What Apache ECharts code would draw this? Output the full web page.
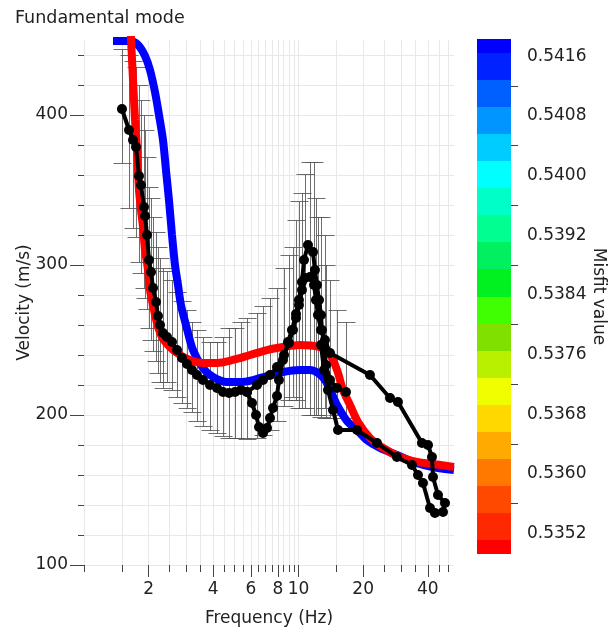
<!DOCTYPE html>
<html>
<head>
<meta charset="utf-8">
<title>Fundamental mode</title>
<script src="https://cdn.jsdelivr.net/npm/echarts@6/dist/echarts.min.js"></script>
<style>
  html, body { margin: 0; padding: 0; background: #ffffff; }
  #chart { width: 610px; height: 636px; }
</style>
</head>
<body>
<div id="chart"></div>
<script>
// ---- Picked dispersion curve, first branch (Hz, m/s) ----
const pickAFreq = [1.503, 1.621, 1.692, 1.747, 1.804, 1.843, 1.904, 1.925, 1.966, 2.009,
  2.052, 2.097, 2.166, 2.212, 2.261, 2.334, 2.436, 2.571, 2.713, 2.862,
  3.020, 3.186, 3.362, 3.585, 3.865, 4.167, 4.444, 4.741, 5.054, 5.391,
  5.748, 6.066, 6.332, 6.540, 6.826, 7.126, 7.358, 7.599, 7.932, 8.101,
  8.460, 8.925, 9.316, 9.725, 10.04, 10.37, 10.60, 11.06, 11.67, 11.92,
  12.18, 12.45, 12.72, 12.85, 13.13, 13.42, 14.01, 15.10, 16.63];
const pickAVel = [404, 390, 383.3, 378.7, 359.3, 353.3, 338.7, 332.7, 320, 303.3,
  295.3, 284.7, 275.3, 266, 260, 254.7, 252, 248.7, 243.3, 238,
  234, 230, 226.7, 223.3, 220, 218, 215.3, 214.7, 215.3, 216.7,
  215.3, 208, 200, 192, 188, 191.3, 198, 204.7, 212.7, 223.3,
  236.7, 248.7, 256.7, 267.3, 276.7, 288.7, 303.3, 313.3, 308.7, 296.7,
  286.7, 276.7, 266.7, 256.7, 246.7, 233.3, 223.3, 218, 215.3];

// ---- Picked dispersion curve, second branch (Hz, m/s) ----
const pickBFreq = [5.748, 6.400, 6.826, 7.358, 7.932, 8.551, 9.021, 9.417, 9.725, 10.04,
  10.37, 10.71, 11.30, 11.80, 12.05, 12.31, 12.72, 13.27, 14.01, 21.51,
  26.67, 29.05, 37.58, 40.09, 41.84, 42.30, 44.63, 48.11, 47.09, 43.21,
  40.96, 37.99, 36.01, 33.77, 28.74, 23.19, 18.72, 15.27, 14.47, 13.71,
  13.13, 12.72];
const pickBVel = [215.3, 220, 223.3, 226.7, 232, 240, 248, 256.7, 264.7, 273.3,
  283.3, 291.3, 292, 286.7, 276.7, 266.7, 256.7, 250, 241.3, 226.7,
  211.3, 208.7, 181.3, 180, 172, 158.7, 146.7, 141.3, 135.3, 134.7,
  138, 154.7, 160, 166.7, 172, 181.3, 190, 190, 203.3, 216.7,
  230, 246.7];

// ---- Uncertainty of the picked velocities (Hz, lower m/s, upper m/s) ----
const errFreq = [1.503, 1.621, 1.692, 1.747, 1.804, 1.843, 1.904, 1.925, 1.966, 2.009,
  2.052, 2.097, 2.166, 2.212, 2.261, 2.334, 2.436, 2.571, 2.713, 2.862,
  3.020, 3.186, 3.362, 3.585, 3.865, 4.167, 4.444, 4.741, 5.054, 5.391,
  5.748, 6.400, 6.826, 7.358, 7.932, 8.551, 9.021, 9.417, 9.725, 10.04,
  10.37, 10.71, 11.30, 11.80, 12.05, 12.31, 12.72, 13.27, 13.42, 14.01,
  15.10, 16.63];
const errLow = [368, 338, 325, 319, 302, 295, 285, 278, 271, 258,
  250, 243, 236, 228, 222, 218, 222, 217, 212, 208,
  205, 202, 196, 193, 190, 188, 186, 185, 185, 185,
  184, 185, 187, 190, 196, 206, 210, 212, 210, 205,
  205, 205, 200, 200, 200, 200, 199, 205, 198, 198,
  200, 198];
const errHigh = [444, 440, 436, 432, 420, 410, 400, 390, 372, 352,
  345, 332, 322, 312, 305, 298, 296, 290, 282, 276,
  270, 262, 257, 252, 249, 249, 252, 258, 258, 262,
  265, 268, 273, 278, 285, 298, 307, 312, 330, 343,
  348, 361, 369, 369, 345, 332, 332, 320, 300, 290,
  270, 262];

// ---- Computed dispersion curve, misfit 0.5418 (Hz, m/s) ----
const modelHighFreq = [1.365, 1.638, 1.785, 1.925, 2.030, 2.142, 2.236, 2.334, 2.410, 2.489,
  2.571, 2.655, 2.742, 2.831, 2.987, 3.220, 3.585, 3.992, 4.638, 5.333,
  6.132, 7.126, 8.460, 10.15, 11.30, 12.31, 13.27, 14.01, 15.10, 16.81,
  18.72, 20.83, 23.95, 28.74, 34.14, 42.30, 52.99];
const modelHighVel = [449.3, 449.3, 446.7, 439.3, 430, 415.3, 400, 383.3, 363.3, 343.3,
  320, 300, 286.7, 273.3, 260, 243.3, 231.3, 225.3, 222, 222,
  223.3, 226, 228.7, 230, 230, 228, 223.3, 216.7, 206.7, 196,
  190, 183.3, 178, 173.3, 168.7, 165.3, 163.3];

// ---- Computed dispersion curve, misfit 0.5350 (Hz, m/s) ----
const modelLowFreq = [1.638, 1.656, 1.692, 1.729, 1.766, 1.785, 1.804, 1.843, 1.884, 1.925,
  1.987, 2.030, 2.097, 2.189, 2.309, 2.516, 2.802, 3.118, 3.585, 4.167,
  4.947, 5.937, 7.126, 8.460, 10.15, 12.58, 13.71, 14.47, 15.27, 16.10,
  17.36, 18.92, 21.51, 24.74, 29.69, 35.62, 42.30, 52.99];
const modelLowVel = [470, 451.3, 423.3, 396.7, 376.7, 363.3, 350, 336.7, 325.3, 310,
  296.7, 283.3, 273.3, 261.3, 252, 245.3, 240, 236.7, 234.7, 234.7,
  236.7, 240, 243.3, 245.3, 246.7, 245.3, 242, 236.7, 228, 216.7,
  206.7, 195.3, 184.7, 178, 172, 168.7, 167.3, 165.3];

// ---- Axis ticks ----
const freqMajorTicks = [2, 4, 6, 8, 10, 20, 40];
const freqMinorTicks = [1, 1.5, 2.5, 3, 3.5, 4.5, 5, 5.5, 6.5, 7, 7.5, 8.5, 9, 9.5, 15, 25, 30, 35, 45, 50];
const velMajorTicks = [100, 200, 300, 400];
const velMinorTicks = [120, 140, 160, 180, 220, 240, 260, 280, 320, 340, 360, 380, 420, 440];

// ---- Misfit colour scale ----
const misfitLevels = [0.534924, 0.535287, 0.535651, 0.536014, 0.536378, 0.536741, 0.537105,
  0.537468, 0.537832, 0.538195, 0.538559, 0.538922, 0.539286, 0.539649, 0.540013,
  0.540376, 0.540740, 0.541103, 0.541466, 0.541830];
const misfitColors = ['#ff0000', '#ff2800', '#ff4800', '#ff7800', '#ffaa00', '#ffd800', '#f0ff00',
  '#b8f000', '#80e000', '#40ff00', '#00f020', '#00f060', '#00ff90', '#00ffc8', '#00ffff',
  '#00ccff', '#0095ff', '#0060ff', '#0022ff', '#0000ff'];
const misfitMajorTicks = [0.5352, 0.5360, 0.5368, 0.5376, 0.5384, 0.5392, 0.5400, 0.5408, 0.5416];
const misfitMinorTicks = [0.5356, 0.5364, 0.5372, 0.5380, 0.5388, 0.5396, 0.5404, 0.5412];

// ---- Layout ----
const FONT = 'DejaVu Sans';
const TEXT = '#222222';
const TICK = '#444444';
const GRID_LINE = '#e8e8e8';
const FREQ_MIN = 1, FREQ_MAX = 53;
const VEL_MIN = 100, VEL_MAX = 450;
const MISFIT_MIN = misfitLevels[0], MISFIT_MAX = misfitLevels[misfitLevels.length - 1];

const zip = (a, b) => a.map((v, i) => [v, b[i]]);
const log10 = (v) => Math.log10(v);

// colour bands: each level covers half-way to its neighbours
const bandData = misfitLevels.map((lv, i) => {
  const lo = i === 0 ? MISFIT_MIN : (misfitLevels[i - 1] + lv) / 2;
  const hi = i === misfitLevels.length - 1 ? MISFIT_MAX : (misfitLevels[i + 1] + lv) / 2;
  return [0, lo, hi, i];
});

const errData = errFreq.map((f, i) => [f, errLow[i], errHigh[i]]);

const chart = echarts.init(document.getElementById('chart'), null, { renderer: 'canvas' });

const option = {
  animation: false,
  backgroundColor: '#ffffff',
  title: {
    text: 'Fundamental mode',
    left: 10, top: 4,
    textStyle: { fontFamily: FONT, fontSize: 17.5, fontWeight: 'normal', color: TEXT }
  },
  grid: [
    { left: 84, top: 40, width: 370, height: 525, containLabel: false },
    { left: 477, top: 39, width: 34, height: 515, containLabel: false }
  ],
  xAxis: [
    // data axis (logarithmic frequency)
    { type: 'log', gridIndex: 0, min: FREQ_MIN, max: FREQ_MAX, logBase: 10,
      axisLine: { show: false }, axisTick: { show: false }, axisLabel: { show: false },
      splitLine: { show: false }, minorTick: { show: false }, minorSplitLine: { show: false } },
    // labelled ticks, drawn in log10 units
    { type: 'value', gridIndex: 0, position: 'bottom', min: 0, max: log10(FREQ_MAX),
      name: 'Frequency (Hz)', nameLocation: 'middle', nameGap: 45, nameMoveOverlap: false,
      nameTextStyle: { fontFamily: FONT, fontSize: 17, color: TEXT },
      axisLine: { show: false, onZero: false },
      axisTick: { show: true, length: 12, customValues: freqMajorTicks.map(log10),
        lineStyle: { color: TICK, width: 1 } },
      axisLabel: { show: true, customValues: freqMajorTicks.map(log10), margin: 16,
        fontFamily: FONT, fontSize: 17, color: TEXT,
        formatter: (v) => String(Math.round(Math.pow(10, v))) },
      splitLine: { show: true, lineStyle: { color: GRID_LINE, width: 1 } } },
    // minor ticks
    { type: 'value', gridIndex: 0, position: 'bottom', min: 0, max: log10(FREQ_MAX),
      axisLine: { show: false, onZero: false },
      axisTick: { show: true, length: 7, customValues: freqMinorTicks.map(log10),
        lineStyle: { color: TICK, width: 1 } },
      axisLabel: { show: false },
      splitLine: { show: true, lineStyle: { color: GRID_LINE, width: 1 } } },
    // colour bar
    { type: 'value', gridIndex: 1, min: 0, max: 1, show: false }
  ],
  yAxis: [
    { type: 'value', gridIndex: 0, position: 'left', min: VEL_MIN, max: VEL_MAX,
      name: 'Velocity (m/s)', nameLocation: 'middle', nameGap: 51, nameMoveOverlap: false,
      nameTextStyle: { fontFamily: FONT, fontSize: 17, color: TEXT },
      axisLine: { show: false, onZero: false },
      axisTick: { show: true, length: 14, customValues: velMajorTicks,
        lineStyle: { color: TICK, width: 1 } },
      axisLabel: { show: true, customValues: velMajorTicks, margin: 16,
        fontFamily: FONT, fontSize: 17, color: TEXT },
      splitLine: { show: true, lineStyle: { color: GRID_LINE, width: 1 } } },
    { type: 'value', gridIndex: 0, position: 'left', min: VEL_MIN, max: VEL_MAX,
      axisLine: { show: false, onZero: false },
      axisTick: { show: true, length: 6, customValues: velMinorTicks,
        lineStyle: { color: TICK, width: 1 } },
      axisLabel: { show: false },
      splitLine: { show: true, lineStyle: { color: GRID_LINE, width: 1 } } },
    { type: 'value', gridIndex: 1, position: 'right', min: MISFIT_MIN, max: MISFIT_MAX,
      name: 'Misfit value', nameLocation: 'middle', nameGap: 77, nameRotate: -90,
      nameTextStyle: { fontFamily: FONT, fontSize: 17, color: TEXT },
      axisLine: { show: false },
      axisTick: { show: true, length: 14, customValues: misfitMajorTicks,
        lineStyle: { color: TICK, width: 1 } },
      axisLabel: { show: true, customValues: misfitMajorTicks, margin: 16,
        fontFamily: FONT, fontSize: 17, color: TEXT,
        formatter: (v) => v.toFixed(4) },
      splitLine: { show: false } },
    { type: 'value', gridIndex: 1, position: 'right', min: MISFIT_MIN, max: MISFIT_MAX,
      axisLine: { show: false },
      axisTick: { show: true, length: 7, customValues: misfitMinorTicks,
        lineStyle: { color: TICK, width: 1 } },
      axisLabel: { show: false },
      splitLine: { show: false } }
  ],
  series: [
    // error bars
    {
      type: 'custom', name: 'uncertainty', xAxisIndex: 0, yAxisIndex: 0,
      clip: true, z: 2,
      data: errData,
      encode: { x: 0, y: [1, 2] },
      renderItem: function (params, api) {
        const f = api.value(0);
        const top = api.coord([f, api.value(2)]);
        const bot = api.coord([f, api.value(1)]);
        const x = Math.round(top[0]) + 0.5;
        const y1 = Math.round(top[1]) + 0.5;
        const y2 = Math.round(bot[1]) + 0.5;
        const hw = 9;
        const st = { stroke: '#555555', lineWidth: 1, opacity: 0.85 };
        return {
          type: 'group',
          children: [
            { type: 'line', shape: { x1: x, y1: y1, x2: x, y2: y2 }, style: st },
            { type: 'line', shape: { x1: x - hw, y1: y1, x2: x + hw, y2: y1 }, style: st },
            { type: 'line', shape: { x1: x - hw, y1: y2, x2: x + hw, y2: y2 }, style: st }
          ]
        };
      }
    },
    {
      type: 'line', name: 'misfit 0.5418', xAxisIndex: 0, yAxisIndex: 0, z: 3,
      data: zip(modelHighFreq, modelHighVel),
      showSymbol: false, smooth: 0.3, clip: true,
      lineStyle: { color: '#0000ff', width: 8 }
    },
    {
      type: 'line', name: 'misfit 0.5350', xAxisIndex: 0, yAxisIndex: 0, z: 4,
      data: zip(modelLowFreq, modelLowVel),
      showSymbol: false, smooth: 0.3, clip: true,
      lineStyle: { color: '#ff0000', width: 8 }
    },
    {
      type: 'line', name: 'picked A', xAxisIndex: 0, yAxisIndex: 0, z: 5,
      data: zip(pickAFreq, pickAVel),
      symbol: 'circle', symbolSize: 10, clip: true,
      itemStyle: { color: '#000000' },
      lineStyle: { color: '#000000', width: 4 }
    },
    {
      type: 'line', name: 'picked B', xAxisIndex: 0, yAxisIndex: 0, z: 5,
      data: zip(pickBFreq, pickBVel),
      symbol: 'circle', symbolSize: 10, clip: true,
      itemStyle: { color: '#000000' },
      lineStyle: { color: '#000000', width: 4 }
    },
    // colour bar bands
    {
      type: 'custom', name: 'misfit scale', xAxisIndex: 3, yAxisIndex: 2,
      data: bandData,
      encode: { x: 0, y: [1, 2] },
      renderItem: function (params, api) {
        const a = api.coord([0, api.value(1)]);
        const b = api.coord([1, api.value(2)]);
        const x0 = Math.round(a[0]), x1 = Math.round(b[0]);
        const yB = Math.round(a[1]), yT = Math.round(b[1]);
        return {
          type: 'rect',
          shape: { x: x0, y: yT, width: x1 - x0, height: yB - yT },
          style: { fill: misfitColors[api.value(3)] }
        };
      }
    }
  ]
};

chart.setOption(option);
</script>
</body>
</html>
